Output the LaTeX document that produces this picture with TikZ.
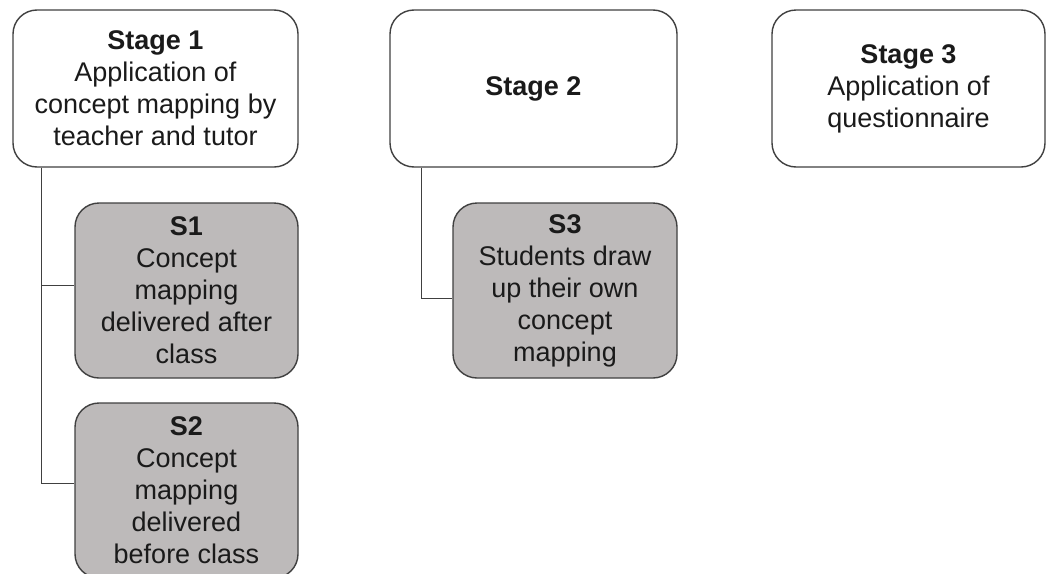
\documentclass[tikz,border=0pt]{standalone}
\usepackage{fontspec}
\setmainfont{Liberation Sans}
\definecolor{boxline}{RGB}{64,64,64}
\definecolor{subfill}{RGB}{189,186,186}
\definecolor{txt}{RGB}{26,26,26}
\begin{document}
\begin{tikzpicture}[x=1pt,y=-1pt,
  stagebox/.style={draw=boxline,line width=1.4pt,rounded corners=24pt,fill=white,
    inner sep=0pt,align=center,text=txt,font=\fontsize{27}{32}\selectfont,minimum height=157pt},
  subbox/.style={stagebox,fill=subfill,minimum width=223pt,minimum height=175pt},
  conn/.style={draw=boxline,line width=1.4pt}]
\useasboundingbox (0,0) rectangle (1048,573);
\node[stagebox,minimum width=285pt] (st1) at (155.5,88.5) {\textbf{Stage 1}\\Application of\\concept mapping by\\teacher and tutor};
\node[stagebox,minimum width=287pt] (st2) at (533.5,88.5) {\textbf{Stage 2}};
\node[stagebox,minimum width=273pt] (st3) at (908.5,88.5) {\textbf{Stage 3}\\Application of\\questionnaire};
\node[subbox] (s1) at (186.5,290.5) {\textbf{S1}\\Concept\\mapping\\delivered after\\class};
\node[subbox] (s2) at (186.5,490.5) {\textbf{S2}\\Concept\\mapping\\delivered\\before class};
\node[subbox,minimum width=224pt] (s3) at (565,290.5) {\textbf{S3}\\Students draw\\up their own\\concept\\mapping};
\coordinate (t1) at ([xshift=29pt]st1.south west);
\coordinate (t2) at ([xshift=32pt]st2.south west);
\draw[conn] (t1) |- ([yshift=5pt]s1.west);
\draw[conn] (t1) |- ([yshift=7pt]s2.west);
\draw[conn] (t2) |- ([yshift=-8pt]s3.west);
\end{tikzpicture}
\end{document}
